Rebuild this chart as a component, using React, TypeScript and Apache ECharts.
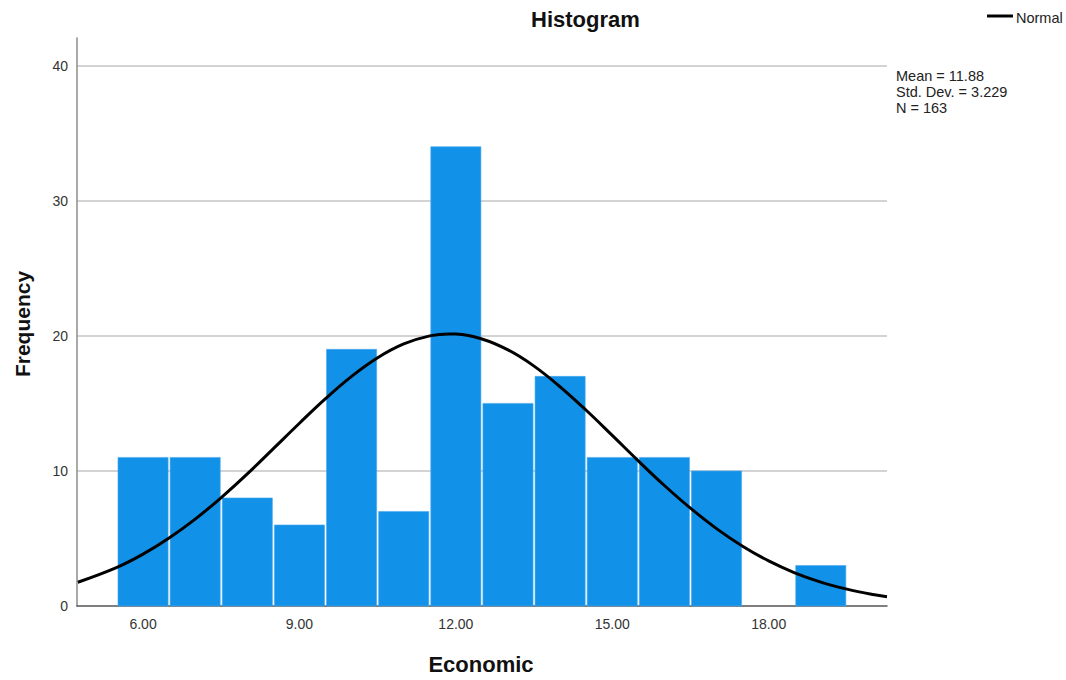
import React, { useEffect, useRef } from "react";
import * as echarts from "echarts";

// Histogram bins (bin centres) and frequencies
const binCenters = [6, 7, 8, 9, 10, 11, 12, 13, 14, 15, 16, 17, 18, 19];
const frequencies = [11, 11, 8, 6, 19, 7, 34, 15, 17, 11, 11, 10, 0, 3];

// Normal curve points
const curveX = [4.75, 5.5, 6, 6.5, 7, 7.5, 8, 8.5, 9, 9.5, 10, 10.5, 11, 11.5, 11.88, 12, 12.5, 13, 13.5, 14, 14.5, 15, 15.5, 16, 16.5, 17, 17.5, 18, 18.5, 19, 19.5, 20, 20.27];
const curveY = [1.76, 2.86, 3.84, 5.03, 6.43, 8.03, 9.78, 11.65, 13.53, 15.35, 17.0, 18.38, 19.4, 20.0, 20.14, 20.13, 19.77, 18.96, 17.76, 16.23, 14.49, 12.63, 10.74, 8.92, 7.24, 5.73, 4.43, 3.34, 2.46, 1.77, 1.25, 0.85, 0.69];

const xTickLabels = [6, 9, 12, 15, 18];
const yTickLabels = [0, 10, 20, 30, 40];
const statLines = ["Mean = 11.88", "Std. Dev. = 3.229", "N = 163"];

const FONT = "'Liberation Sans', Arial, sans-serif";

export default function App() {
  const ref = useRef<HTMLDivElement>(null);
  useEffect(() => {
    if (!ref.current) return;
    const chart = echarts.init(ref.current, undefined, { renderer: "svg" });
    chart.setOption({
      animation: false,
      backgroundColor: "#ffffff",
      textStyle: { fontFamily: FONT },
      grid: { left: 77, top: 38, right: 179, bottom: 74, containLabel: false },
      xAxis: {
        type: "value",
        min: 4.733,
        max: 20.27,
        axisLine: { show: true, lineStyle: { color: "#555555", width: 1.5 } },
        axisTick: { show: false },
        splitLine: { show: false },
        axisLabel: {
          customValues: xTickLabels,
          formatter: (v: number) => v.toFixed(2),
          fontSize: 14,
          color: "#333333",
          margin: 11,
          fontFamily: FONT,
        },
      },
      yAxis: {
        type: "value",
        min: 0,
        max: 42.05,
        axisLine: { show: true, lineStyle: { color: "#8c8c8c", width: 1.5 } },
        axisTick: { show: false },
        splitLine: {
          show: true,
          showMaxLine: false,
          showMinLine: false,
          lineStyle: { color: "#c4c4c4", width: 1.5 },
        },
        axisLabel: {
          customValues: yTickLabels,
          fontSize: 14,
          color: "#333333",
          margin: 9,
          fontFamily: FONT,
        },
      },
      series: [
        {
          type: "custom",
          data: binCenters.map((x, i) => [x, frequencies[i]]),
          renderItem: (params: any, api: any) => {
            const x = api.value(0);
            const y = api.value(1);
            if (!y) return null;
            const p0 = api.coord([x - 0.5, y]);
            const p1 = api.coord([x + 0.5, 0]);
            return {
              type: "rect",
              shape: { x: p0[0] + 1, y: p0[1], width: p1[0] - p0[0] - 2, height: p1[1] - p0[1] },
              style: { fill: "#1192e8", stroke: "#4aa8ee", lineWidth: 0.6 },
            };
          },
          z: 1,
        },
        {
          type: "line",
          data: curveX.map((x, i) => [x, curveY[i]]),
          showSymbol: false,
          symbol: "none",
          smooth: 0.4,
          lineStyle: { color: "#000000", width: 3 },
          z: 5,
        },
      ],
      graphic: [
        {
          type: "text",
          left: 586 - 55,
          top: 8,
          style: { text: "Histogram", font: `bold 22px ${FONT}`, fill: "#111111" },
        },
        {
          type: "text",
          x: 481,
          y: 664,
          style: { text: "Economic", font: `bold 22px ${FONT}`, fill: "#111111", align: "center", verticalAlign: "middle" },
        },
        {
          type: "text",
          x: 22,
          y: 324,
          rotation: Math.PI / 2,
          style: { text: "Frequency", font: `bold 21px ${FONT}`, fill: "#111111", align: "center", verticalAlign: "middle" },
        },
        {
          type: "line",
          shape: { x1: 987, y1: 16, x2: 1013, y2: 16 },
          style: { stroke: "#000000", lineWidth: 3 },
        },
        {
          type: "text",
          x: 1016,
          y: 18,
          style: { text: "Normal", font: `14.5px ${FONT}`, fill: "#222222", verticalAlign: "middle" },
        },
        ...statLines.map((t, i) => ({
          type: "text",
          x: 896,
          y: 76 + i * 15.8,
          style: { text: t, font: `14.5px ${FONT}`, fill: "#222222", verticalAlign: "middle" },
        })),
      ],
    });
    return () => chart.dispose();
  }, []);
  return (
    <div
      ref={ref}
      style={{ position: "fixed", left: 0, top: 0, width: 1066, height: 680, background: "#fff" }}
    />
  );
}
